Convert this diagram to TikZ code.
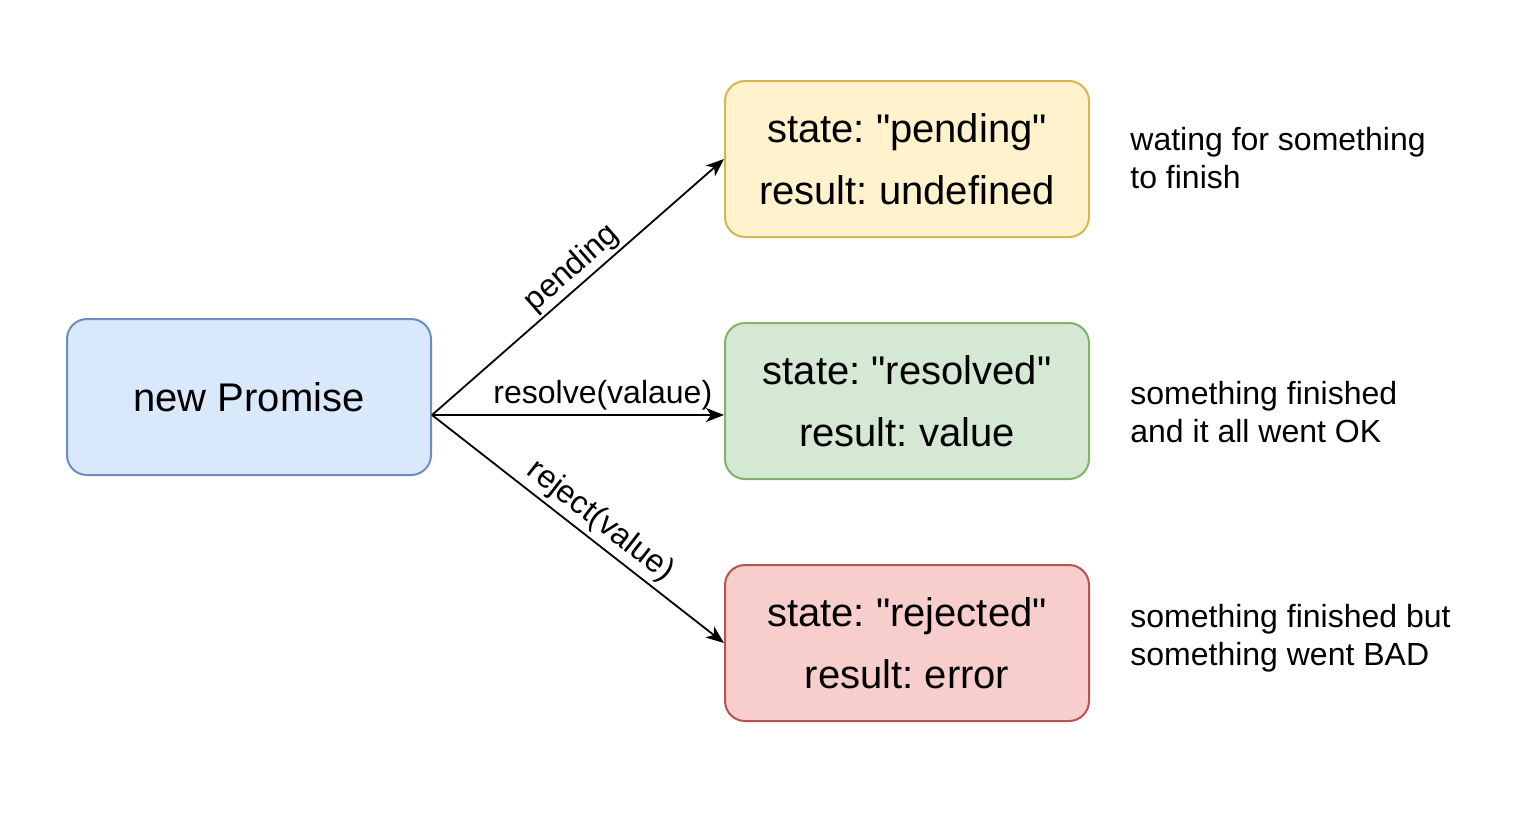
\documentclass[tikz,border=0pt]{standalone}
\usepackage{fontspec}
\setmainfont{Liberation Sans}[Ligatures=TeXOff]
\usetikzlibrary{arrows.meta,calc}
\definecolor{bluefill}{HTML}{DAE8FC}
\definecolor{bluedraw}{HTML}{6C8EBF}
\definecolor{yelfill}{HTML}{FFF2CC}
\definecolor{yeldraw}{HTML}{D6B656}
\definecolor{grnfill}{HTML}{D5E8D4}
\definecolor{grndraw}{HTML}{82B366}
\definecolor{redfill}{HTML}{F8CECC}
\definecolor{reddraw}{HTML}{B85450}
\frenchspacing
\begin{document}
\begin{tikzpicture}[x=0.5pt,y=-0.5pt,
  box/.style={draw, line width=1pt, rounded corners=10pt, minimum width=182pt,
    minimum height=78pt, inner sep=0pt, align=center,
    font=\fontsize{20}{31}\selectfont},
  side/.style={anchor=west, align=left, inner sep=0pt,
    font=\fontsize{16}{19}\selectfont},
  conn/.style={line width=0.9pt, -{Stealth[length=9pt,width=7pt,inset=2.5pt]}},
  lbl/.style={font=\fontsize{16}{19}\selectfont, sloped, above, inner sep=2pt}]
\useasboundingbox (0,0) rectangle (1526,814);
\node[box, fill=bluefill, draw=bluedraw] (prom) at (249,397) {new Promise};
\node[box, fill=yelfill, draw=yeldraw] (yel) at (907,159) {state: "pending"\\result: undefined};
\node[box, fill=grnfill, draw=grndraw] (grn) at (907,401) {state: "resolved"\\result: value};
\node[box, fill=redfill, draw=reddraw] (red) at (907,643) {state: "rejected"\\result: error};
\node[side] (t1) at (1130,158) {wating for something\\to finish};
\node[side] (t2) at (1130,412) {something finished\\and it all went OK};
\node[side] (t3) at (1130,638) {something finished but\\something went BAD};
\coordinate (src) at ($(prom.east)+(0,18)$);
\draw[conn] (src) -- node[lbl, pos=0.52, yshift=-1pt] {pending} (yel.west);
\draw[conn] (src) -- node[lbl, pos=0.585] {resolve(valaue)} (grn.west |- src);
\draw[conn] (src) -- node[lbl, pos=0.535] {reject(value)} (red.west);
\end{tikzpicture}
\end{document}
